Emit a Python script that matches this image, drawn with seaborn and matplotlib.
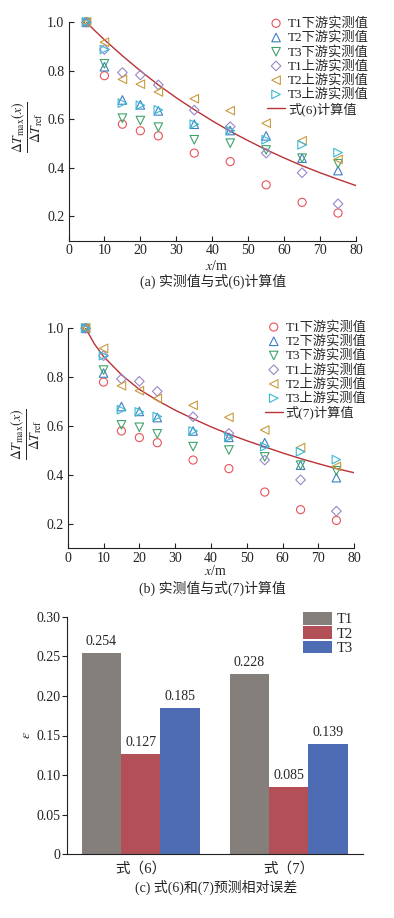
import numpy as np
import pandas as pd
import matplotlib
matplotlib.use("Agg")
import matplotlib.pyplot as plt
import seaborn as sns

# ---------------- data ----------------
x_meas = [5, 10, 15, 20, 25, 35, 45, 55, 65, 75]
T1_down = [1.0, 0.780, 0.580, 0.553, 0.532, 0.461, 0.426, 0.330, 0.258, 0.214]
T2_down = [1.0, 0.817, 0.680, 0.660, 0.635, 0.580, 0.554, 0.532, 0.440, 0.389]
T3_down = [1.0, 0.829, 0.605, 0.595, 0.568, 0.516, 0.502, 0.474, 0.440, 0.417]
T1_up = [1.0, 0.888, 0.793, 0.783, 0.742, 0.638, 0.570, 0.461, 0.380, 0.252]
T2_up = [1.0, 0.918, 0.765, 0.745, 0.713, 0.685, 0.636, 0.584, 0.512, 0.435]
T3_up = [1.0, 0.888, 0.667, 0.658, 0.639, 0.580, 0.554, 0.516, 0.495, 0.463]

series_names = ["T1下游实测值", "T2下游实测值", "T3下游实测值",
                "T1上游实测值", "T2上游实测值", "T3上游实测值"]
series_vals = [T1_down, T2_down, T3_down, T1_up, T2_up, T3_up]

x_curve = [5, 7.5, 10, 15, 20, 25, 30, 35, 40, 45, 50, 55, 60, 65, 70, 75, 80]
eq6_vals = [1.0, 0.963, 0.928, 0.862, 0.800, 0.742, 0.689, 0.640, 0.594,
            0.551, 0.512, 0.475, 0.441, 0.409, 0.380, 0.353, 0.327]
eq7_vals = [1.0, 0.935, 0.885, 0.810, 0.750, 0.705, 0.665, 0.630, 0.597,
            0.567, 0.540, 0.515, 0.490, 0.467, 0.446, 0.426, 0.409]

x_ticks = [0, 10, 20, 30, 40, 50, 60, 70, 80]
y_ticks = [0.2, 0.4, 0.6, 0.8, 1.0]
y_ticklabels = ["0.2", "0.4", "0.6", "0.8", "1.0"]

methods = ["式（6）", "式（7）"]
err_T1 = [0.254, 0.228]
err_T2 = [0.127, 0.085]
err_T3 = [0.185, 0.139]
bar_yticks = [0, 0.05, 0.10, 0.15, 0.20, 0.25, 0.30]
bar_yticklabels = ["0", "0.05", "0.10", "0.15", "0.20", "0.25", "0.30"]

# ---------------- style ----------------
sns.set_theme(style="ticks")
plt.rcParams["font.family"] = ["Liberation Serif", "Noto Sans CJK SC"]
plt.rcParams["mathtext.fontset"] = "stix"
plt.rcParams["axes.linewidth"] = 0.8
plt.rcParams["axes.edgecolor"] = "#222222"

markers = ["o", "^", "v", "D", "<", ">"]
colors = ["#e5545a", "#3f7fc4", "#3fa36b", "#9b86c8", "#c99a40", "#3ab9d3"]
sizes = [34, 38, 38, 24, 38, 38]
curve_color = "#b83236"

fig = plt.figure(figsize=(3.94, 9.18), dpi=100)
W, H = 394.0, 918.0

def ax_rect(l, r, t, b):
    return [l / W, 1 - b / H, (r - l) / W, (b - t) / H]

ax_a = fig.add_axes(ax_rect(68.5, 356.0, 22.3, 240.7))
ax_b = fig.add_axes(ax_rect(67.7, 354.3, 328.3, 548.3))
ax_c = fig.add_axes(ax_rect(66.7, 362.7, 616.7, 854.3))

def scatter_panel(ax, curve_vals, curve_label, leg_anchor, xlab_y):
    for name, vals, m, c, s in zip(series_names, series_vals, markers, colors, sizes):
        sns.scatterplot(x=x_meas, y=vals, marker=m, s=s, facecolor="none",
                        edgecolor=c, linewidth=0.8, label=name, ax=ax,
                        clip_on=False, legend=False, zorder=3)
    sns.lineplot(x=x_curve, y=curve_vals, color=curve_color, lw=1.0,
                 label=curve_label, ax=ax, legend=False, zorder=2)
    ax.set_xlim(0, 80)
    ax.set_ylim(0.1, 1.0)
    ax.set_xticks(x_ticks)
    ax.set_xticklabels([str(v) for v in x_ticks])
    ax.set_yticks(y_ticks)
    ax.set_yticklabels(y_ticklabels)
    ax.tick_params(direction="in", length=3.5, width=0.8, labelsize=10,
                   pad=3, colors="#222222")
    ax.tick_params(axis="x", pad=2.5)
    sns.despine(ax=ax)
    ax.set_xlabel(r"$x$/m", fontsize=10, va="center")
    ax.xaxis.set_label_coords(0.515, xlab_y)
    ax.set_ylabel(r"$\frac{\Delta T_{\max}(x)}{\Delta T_{\rm ref}}$", fontsize=14)
    ax.yaxis.set_label_coords(-0.082, 0.52)
    handles, labels = ax.get_legend_handles_labels()
    order = series_names + [curve_label]
    hmap = dict(zip(labels, handles))
    leg = ax.legend([hmap[l] for l in order], order, loc="upper right",
                    bbox_to_anchor=leg_anchor, frameon=False, fontsize=9.5,
                    borderaxespad=0, borderpad=0, labelspacing=0.1,
                    handlelength=1.4, handletextpad=0.2, scatterpoints=1)
    return leg

scatter_panel(ax_a, eq6_vals, "式(6)计算值", (1.045, 1.025), -0.115)
scatter_panel(ax_b, eq7_vals, "式(7)计算值", (1.043, 1.035), -0.104)

fig.text(213 / W, 1 - 281.7 / H, "(a) 实测值与式(6)计算值", ha="center",
         va="center", fontsize=10)
fig.text(212.5 / W, 1 - 588 / H, "(b) 实测值与式(7)计算值", ha="center",
         va="center", fontsize=10)

# ---------------- bar panel ----------------
df = pd.DataFrame({
    "method": methods * 3,
    "group": ["T1"] * 2 + ["T2"] * 2 + ["T3"] * 2,
    "err": err_T1 + err_T2 + err_T3,
})
bar_palette = {"T1": "#857f7c", "T2": "#b34f57", "T3": "#4e6cb4"}
sns.barplot(data=df, x="method", y="err", hue="group", palette=bar_palette,
            width=0.8, saturation=1, ax=ax_c, edgecolor="none")
for cont in ax_c.containers:
    ax_c.bar_label(cont, fmt="%.3f", padding=3.5, fontsize=10)
ax_c.set_xlim(-0.5, 1.5)
ax_c.set_ylim(0, 0.30)
ax_c.set_yticks(bar_yticks)
ax_c.set_yticklabels(bar_yticklabels)
ax_c.tick_params(axis="y", direction="out", length=3.5, width=0.8,
                 labelsize=10, pad=1, colors="#222222")
ax_c.tick_params(axis="x", length=0, labelsize=10.5, pad=5, colors="#222222")
sns.despine(ax=ax_c)
ax_c.set_xlabel("")
ax_c.set_ylabel(r"$\varepsilon$", fontsize=10)
ax_c.yaxis.set_label_coords(-0.115, 0.5)
ax_c.legend(loc="upper right", bbox_to_anchor=(0.967, 1.02), frameon=False,
            fontsize=10.5, borderaxespad=0, borderpad=0, labelspacing=0.0,
            handlelength=1.95, handleheight=0.95, handletextpad=0.35)
fig.text(215.8 / W, 1 - 887 / H, "(c) 式(6)和(7)预测相对误差", ha="center",
         va="center", fontsize=10)

fig.savefig("out.png", dpi=100)
